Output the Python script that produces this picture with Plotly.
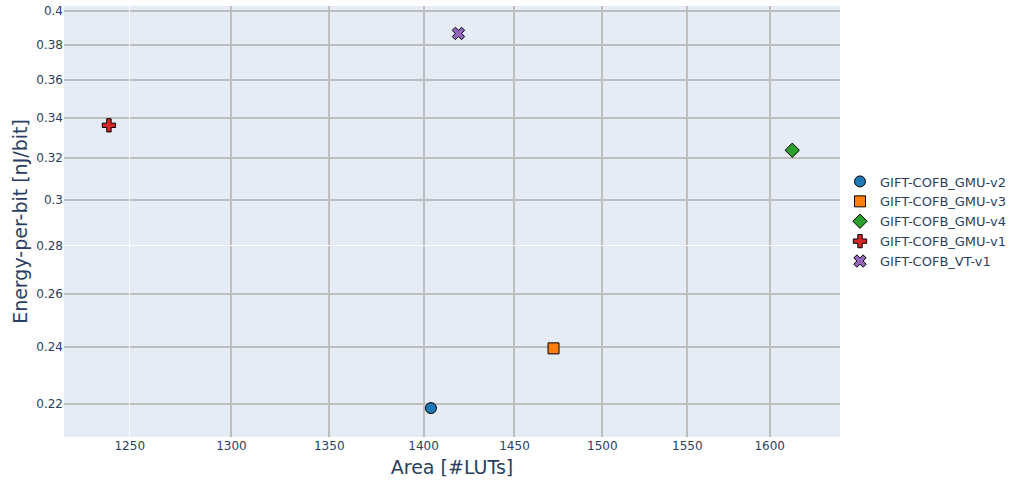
import numpy as np
import plotly.graph_objects as go

# data
designs = ["GIFT-COFB_GMU-v2", "GIFT-COFB_GMU-v3", "GIFT-COFB_GMU-v4",
           "GIFT-COFB_GMU-v1", "GIFT-COFB_VT-v1"]
area_luts = [1404, 1472, 1614, 1240, 1419]
energy_per_bit = [0.2186, 0.2394, 0.3236, 0.3361, 0.3865]

symbols = ["circle", "square", "diamond", "cross", "x"]
colors = ["#1f77b4", "#ff7f0e", "#2ca02c", "#d62728", "#9467bd"]

x_ticks_grey = [1300, 1350, 1400, 1450, 1500, 1550, 1600]
x_ticks_white = [1250]
y_ticks_grey = [0.22, 0.24, 0.26, 0.3, 0.32, 0.34, 0.36, 0.38, 0.4]
y_ticks_white = [0.28]

x_range = [1218.7, 1644]
y_range = [0.2092, 0.403]

FONT = "DejaVu Sans, Verdana, sans-serif"

fig = go.Figure()

for name, x, y, sym, col in zip(designs, area_luts, energy_per_bit, symbols, colors):
    fig.add_trace(go.Scatter(
        x=[x], y=[y],
        mode="markers",
        name=name,
        marker=dict(symbol=sym, size=11, color=col,
                    line=dict(color="black", width=1)),
    ))

# empty trace so that the overlay subplot exists
fig.add_trace(go.Scatter(x=[], y=[], xaxis="x2", yaxis="y2", showlegend=False))

tick_font = dict(family=FONT, size=12, color="#2a3f5f")
title_font = dict(family=FONT, size=19)

fig.update_layout(
    template="plotly",
    width=1014, height=484,
    font=dict(family=FONT),
    margin=dict(l=64, r=174, t=6, b=47, autoexpand=False),
    legend=dict(x=1.0, y=0.5, yanchor="middle", font=dict(family=FONT, size=13),
                bgcolor="white"),
    xaxis=dict(
        type="log", range=list(np.log10(x_range)), automargin=False,
        tickmode="array", tickvals=x_ticks_grey, ticktext=[str(v) for v in x_ticks_grey],
        gridcolor="#bebebe", gridwidth=2, tickfont=tick_font,
        title=dict(text="Area [#LUTs]", font=title_font, standoff=8),
    ),
    yaxis=dict(
        type="log", range=list(np.log10(y_range)), automargin=False,
        tickmode="array", tickvals=y_ticks_grey, ticktext=[f"{v:g}" for v in y_ticks_grey],
        gridcolor="#bebebe", gridwidth=2, tickfont=tick_font,
        title=dict(text="Energy-per-bit [nJ/bit]", font=title_font, standoff=3),
    ),
    xaxis2=dict(
        type="log", range=list(np.log10(x_range)), overlaying="x", anchor="y2",
        side="bottom", automargin=False,
        tickmode="array", tickvals=x_ticks_white, ticktext=[str(v) for v in x_ticks_white],
        gridcolor="white", gridwidth=1, tickfont=tick_font,
    ),
    yaxis2=dict(
        type="log", range=list(np.log10(y_range)), overlaying="y", anchor="x2",
        side="left", automargin=False,
        tickmode="array", tickvals=y_ticks_white, ticktext=[f"{v:g}" for v in y_ticks_white],
        gridcolor="white", gridwidth=1, tickfont=tick_font,
    ),
)

# drop the browser's default page margin so the figure sits at the window corner
fig.write_html("out.html", config={"displayModeBar": False},
               post_script="document.body.style.margin = '0';")
